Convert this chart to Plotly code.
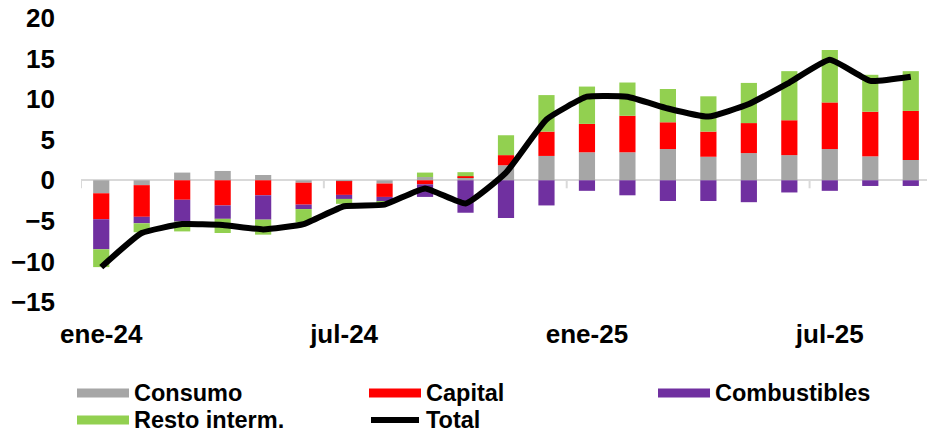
import plotly.graph_objects as go

# contribuciones por grupo (puntos porcentuales), ene-24 a sep-25
meses = ['ene-24', 'feb-24', 'mar-24', 'abr-24', 'may-24', 'jun-24', 'jul-24',
         'ago-24', 'sep-24', 'oct-24', 'nov-24', 'dic-24', 'ene-25', 'feb-25',
         'mar-25', 'abr-25', 'may-25', 'jun-25', 'jul-25', 'ago-25', 'sep-25']
consumo = [-1.6, -0.6, 0.95, 1.15, 0.65, -0.3, -0.1, -0.4, 0.4, 0.4, 1.85,
           3.0, 3.45, 3.45, 3.85, 2.9, 3.35, 3.1, 3.85, 2.95, 2.5]
capital = [-3.2, -3.9, -2.4, -3.1, -1.85, -2.7, -1.7, -1.65, -0.5, 0.1, 1.25,
           3.0, 3.5, 4.5, 3.3, 3.1, 3.7, 4.3, 5.75, 5.5, 6.05]
combustibles = [-3.7, -0.8, -2.7, -1.65, -3.0, -0.55, -0.5, -0.55, -1.55, -4.0, -4.65,
                -3.1, -1.3, -1.85, -2.55, -2.55, -2.7, -1.5, -1.3, -0.7, -0.7]
resto = [-2.2, -1.1, -1.2, -1.75, -1.85, -1.65, -0.6, -0.2, 0.55, 0.5, 2.45,
         4.5, 4.6, 4.1, 4.1, 4.35, 4.95, 6.05, 6.45, 4.55, 4.9]
total = [-10.7, -6.5, -5.4, -5.5, -6.05, -5.4, -3.2, -3.0, -1.0, -2.85, 0.95,
         7.5, 10.3, 10.3, 8.85, 7.85, 9.4, 12.05, 14.85, 12.25, 12.75]

series = [('Consumo', consumo, '#a6a6a6'),
          ('Capital', capital, '#ff0000'),
          ('Combustibles', combustibles, '#7030a0'),
          ('Resto interm.', resto, '#92d050')]

FONT = 'Liberation Sans, Arial, sans-serif'
OFF = 8  # page body margin
W, H = 935 - OFF, 432 - OFF
# plot area in page pixels: x 81..931, y 18..302
L, R, T, B = 81 - OFF, 935 - 931, 18 - OFF, 432 - 302
x = list(range(len(meses)))

fig = go.Figure()
for name, vals, col in series:
    fig.add_trace(go.Bar(x=x, y=vals, name=name, marker_color=col,
                         marker_line_width=0, width=0.4))
fig.add_trace(go.Scatter(x=x, y=total, name='Total', mode='lines',
                         line=dict(color='black', width=6, shape='spline', smoothing=0.4)))


# page pixel -> paper helpers for the hand-made legend
def px(v):
    return (v - 81) / (931 - 81)


def py(v):
    return (302 - v) / (302 - 18)


shapes = []
# tick marks on the zero line every 6 months
for b in range(0, len(meses), 6):
    shapes.append(dict(type='line', xref='x', yref='y', x0=b - 0.5, x1=b - 0.5,
                       ysizemode='pixel', yanchor=0, y0=0, y1=-8,
                       line=dict(color='#d9d9d9', width=2)))

annotations = []
leg_pos = [(77, 393), (369, 393), (658, 393), (77, 420)]
for (name, vals, col), (lx, ly) in zip(series, leg_pos):
    shapes.append(dict(type='rect', xref='paper', yref='paper',
                       x0=px(lx), x1=px(lx + 52), y0=py(ly - 4.5), y1=py(ly + 4.5),
                       fillcolor=col, line_width=0))
    annotations.append(dict(text=name, xref='paper', yref='paper', x=px(lx + 55), y=py(ly),
                            xanchor='left', yanchor='middle', showarrow=False,
                            font=dict(family=FONT, size=23.5, color='black', weight='bold')))
# Total (line)
shapes.append(dict(type='line', xref='paper', yref='paper', x0=px(371), x1=px(419),
                   y0=py(420), y1=py(420), line=dict(color='black', width=6)))
annotations.append(dict(text='Total', xref='paper', yref='paper', x=px(424), y=py(420),
                        xanchor='left', yanchor='middle', showarrow=False,
                        font=dict(family=FONT, size=23.5, color='black', weight='bold')))

fig.update_layout(
    width=W, height=H, barmode='relative', showlegend=False,
    margin=dict(l=L, r=R, t=T, b=B, autoexpand=False),
    paper_bgcolor='white', plot_bgcolor='white',
    font=dict(family=FONT, color='black'),
    shapes=shapes, annotations=annotations,
)
fig.update_xaxes(range=[-0.5, len(meses) - 0.5], tickvals=x[::6], ticktext=meses[::6],
                 showgrid=False, zeroline=False, showline=False, ticks='',
                 ticklabelstandoff=14, automargin=False, ticklabeloverflow='allow',
                 tickfont=dict(family=FONT, size=26, color='black', weight='bold'))
fig.update_yaxes(range=[-15, 20], tickvals=list(range(-15, 21, 5)),
                 showgrid=False, zeroline=True, zerolinecolor='#d9d9d9', zerolinewidth=2,
                 showline=False, ticks='', ticklabelstandoff=25, automargin=False,
                 ticklabeloverflow='allow',
                 tickfont=dict(family=FONT, size=26, color='black', weight='bold'))

fig.write_html("out.html")
